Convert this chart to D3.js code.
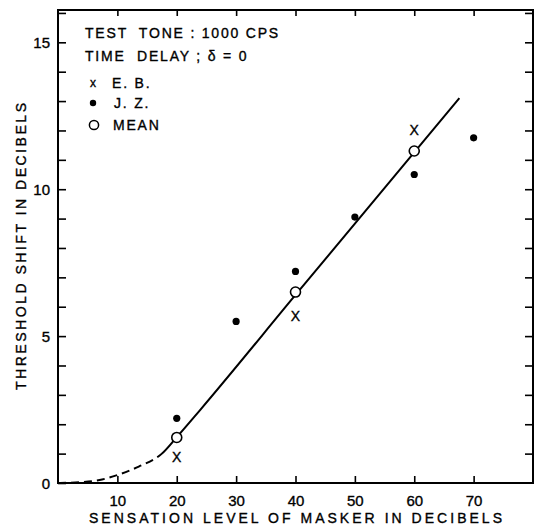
<!DOCTYPE html>
<html>
<head>
<meta charset="utf-8">
<script src="https://cdn.jsdelivr.net/npm/d3@7"></script>
<style>
  body { margin: 0; background: #fff; }
  svg text { font-family: "Liberation Sans", Arial, sans-serif; fill: #000; stroke: #000; stroke-width: 0.35; }
</style>
</head>
<body>
<script>
// data
let ebX      = [20, 40, 60]
let ebY      = [0.9, 5.7, 12.0]
let jzX      = [20, 30, 40, 50, 60, 70]
let jzY      = [2.2, 5.5, 7.2, 9.05, 10.5, 11.75]
let meanX    = [20, 40, 60]
let meanY    = [1.55, 6.5, 11.3]
// fitted curve (dashed below x = 17.5, solid above)
let fitX     = [0, 4, 7, 10, 13.6, 17.5, 20, 24, 40, 67.6]
let fitY     = [0, 0.03, 0.1, 0.27, 0.56, 1.0, 1.56, 2.5, 6.4, 13.1]
let dashEnd  = 17.5
let xTicks   = [10, 20, 30, 40, 50, 60, 70]
let yTicks   = d3.range(0, 17)
let yLabels  = [0, 5, 10, 15]

let w = 534
let h = 526
let mLeft = 58, mRight = 533, mTop = 10, mBottom = 483

let svg = d3.select("body").append("svg")
            .attr("width", w)
            .attr("height", h)

let x = d3.scaleLinear().domain([0, 80]).range([mLeft, mRight])
let y = d3.scaleLinear().domain([0, 16.1]).range([mBottom, mTop])

// axes, ticks pointing inside the frame
let gb = svg.append("g")
            .attr("transform", "translate(0," + mBottom + ")")
            .call(d3.axisBottom(x).tickValues(xTicks).tickSizeInner(-7).tickSizeOuter(0).tickPadding(12))
let gt = svg.append("g")
            .attr("transform", "translate(0," + mTop + ")")
            .call(d3.axisTop(x).tickValues(xTicks).tickSizeInner(-6).tickSizeOuter(0).tickFormat(""))
let gl = svg.append("g")
            .attr("transform", "translate(" + mLeft + ",0)")
            .call(d3.axisLeft(y).tickValues(yTicks).tickSizeInner(-8).tickSizeOuter(0).tickPadding(8)
                .tickFormat(d => yLabels.includes(d) ? d : ""))
let gr = svg.append("g")
            .attr("transform", "translate(" + mRight + ",0)")
            .call(d3.axisRight(y).tickValues(yTicks.slice(1)).tickSizeInner(-8).tickSizeOuter(0).tickFormat(""))

svg.selectAll(".domain").remove()
svg.selectAll(".tick line").attr("stroke", "#000").attr("stroke-width", 1.6)
svg.selectAll(".tick text").attr("font-size", 15).attr("font-family", "Liberation Sans, Arial, sans-serif").attr("fill", "#000")
gl.selectAll(".tick text").attr("dy", "0.36em")

// frame
svg.append("rect")
    .attr("x", mLeft)
    .attr("y", mTop)
    .attr("width", mRight - mLeft)
    .attr("height", mBottom - mTop)
    .attr("fill", "none")
    .attr("stroke", "#000")
    .attr("stroke-width", 2)

// fitted curve, one smooth path split by two clips
let defs = svg.append("defs")
defs.append("clipPath").attr("id", "clipDash")
    .append("rect").attr("x", 0).attr("y", 0).attr("width", x(dashEnd)).attr("height", h)
defs.append("clipPath").attr("id", "clipSolid")
    .append("rect").attr("x", x(dashEnd)).attr("y", 0).attr("width", w).attr("height", h)

let line = d3.line().x(d => x(d[0])).y(d => y(d[1])).curve(d3.curveMonotoneX)
let fit = fitX.map((d, i) => [d, fitY[i]])

svg.append("path")
    .attr("d", line(fit))
    .attr("clip-path", "url(#clipDash)")
    .attr("fill", "none")
    .attr("stroke", "#000")
    .attr("stroke-width", 2)
    .attr("stroke-dasharray", "8,5")

svg.append("path")
    .attr("d", line(fit))
    .attr("clip-path", "url(#clipSolid)")
    .attr("fill", "none")
    .attr("stroke", "#000")
    .attr("stroke-width", 2)

// J.Z. filled dots
svg.selectAll(".jz")
    .data(jzX.map((d, i) => [d, jzY[i]]))
    .enter()
    .append("circle")
    .attr("class", "jz")
    .attr("cx", d => x(d[0]))
    .attr("cy", d => y(d[1]))
    .attr("r", 3.6)
    .attr("fill", "#000")

// E.B. crosses drawn as letters
svg.selectAll(".eb")
    .data(ebX.map((d, i) => [d, ebY[i]]))
    .enter()
    .append("text")
    .attr("class", "eb")
    .attr("x", d => x(d[0]))
    .attr("y", d => y(d[1]))
    .attr("dy", "0.36em")
    .attr("text-anchor", "middle")
    .attr("font-size", 14)
    .text("X")

// means, open circles
svg.selectAll(".mean")
    .data(meanX.map((d, i) => [d, meanY[i]]))
    .enter()
    .append("circle")
    .attr("class", "mean")
    .attr("cx", d => x(d[0]))
    .attr("cy", d => y(d[1]))
    .attr("r", 5)
    .attr("fill", "#fff")
    .attr("stroke", "#000")
    .attr("stroke-width", 1.6)

// annotation
let note = svg.append("g").attr("font-size", 14).attr("letter-spacing", 1.8)
note.append("text").attr("x", 85).attr("y", 38).attr("xml:space", "preserve").text("TEST  TONE : 1000 CPS")
note.append("text").attr("x", 85).attr("y", 61).attr("xml:space", "preserve").text("TIME  DELAY ; δ = 0")

// legend
let legend = svg.append("g").attr("font-size", 14).attr("letter-spacing", 1.8)
legend.append("text").attr("x", 93).attr("y", 83).attr("dy", "0.36em")
    .attr("text-anchor", "middle").attr("font-size", 12).attr("letter-spacing", 0).text("x")
legend.append("text").attr("x", 112).attr("y", 88).text("E. B.")
legend.append("circle").attr("cx", 93).attr("cy", 103).attr("r", 3.2).attr("fill", "#000")
legend.append("text").attr("x", 114).attr("y", 108).text("J. Z.")
legend.append("circle").attr("cx", 94).attr("cy", 125).attr("r", 4.6)
    .attr("fill", "#fff").attr("stroke", "#000").attr("stroke-width", 1.5)
legend.append("text").attr("x", 113).attr("y", 130).text("MEAN")

// axis titles
svg.append("text")
    .attr("x", 89)
    .attr("y", 523)
    .attr("font-size", 14)
    .attr("textLength", 413)
    .attr("lengthAdjust", "spacing")
    .text("SENSATION LEVEL OF MASKER IN DECIBELS")

svg.append("text")
    .attr("transform", "translate(26,390) rotate(-90)")
    .attr("font-size", 14)
    .attr("textLength", 287)
    .attr("lengthAdjust", "spacing")
    .text("THRESHOLD SHIFT IN DECIBELS")
</script>
</body>
</html>
